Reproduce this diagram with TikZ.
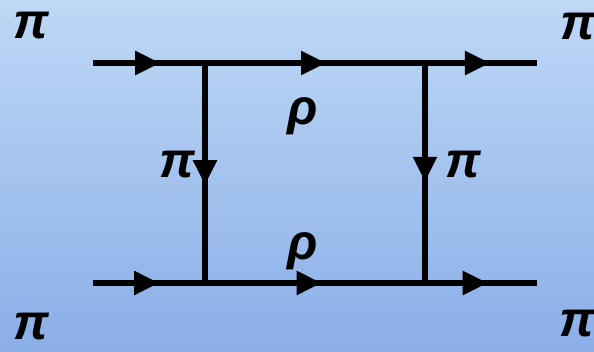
\documentclass[tikz,border=0pt]{standalone}
\usepackage{fontspec}
\setmainfont{Liberation Sans}
\usetikzlibrary{arrows.meta,decorations.markings}
\tikzset{
  prop/.style={line width=5.5pt, black},
  lbl/.style={inner sep=0pt, font=\fontsize{50}{50}\selectfont\bfseries\itshape},
  arr/.style={postaction={decorate}, decoration={markings, mark=at position #1 with {\arrow{Triangle[length=25pt,width=23pt]}}}}
}
\begin{document}
\begin{tikzpicture}[x=1pt,y=1pt]
\shade[top color={rgb,255:red,190;green,216;blue,245}, bottom color={rgb,255:red,138;green,174;blue,232}] (0,0) rectangle (594,352);
\useasboundingbox (0,0) rectangle (594,352);
% vertices (y = 352 - y_px)
\coordinate (a) at (93,289);
\coordinate (v1) at (205,289);
\coordinate (v2) at (425,289);
\coordinate (b) at (537,289);
\coordinate (c) at (93,69);
\coordinate (v3) at (205,69);
\coordinate (v4) at (425,69);
\coordinate (d) at (537,69);
% lines
\draw[prop, arr=0.6] (a) -- (v1);
\draw[prop, arr=0.55] (v1) -- (v2);
\draw[prop, arr=0.58] (v2) -- (b);
\draw[prop, arr=0.59] (c) -- (v3);
\draw[prop, arr=0.53] (v3) -- (v4);
\draw[prop, arr=0.56] (v4) -- (d);
\draw[prop, arr=0.555] (v1) -- (v3);
\draw[prop, arr=0.54] (v2) -- (v4);
% labels
\node[lbl] (p1) at (31,326) {π};
\node[lbl] (p2) at (578,325) {π};
\node[lbl] (p3) at (31,25) {π};
\node[lbl] (p4) at (577,28) {π};
\node[lbl] (p5) at (177,187) {π};
\node[lbl] (p6) at (463,187) {π};
\node[lbl] (r1) at (303,236) {ρ};
\node[lbl] (r2) at (303,101) {ρ};
\end{tikzpicture}
\end{document}
